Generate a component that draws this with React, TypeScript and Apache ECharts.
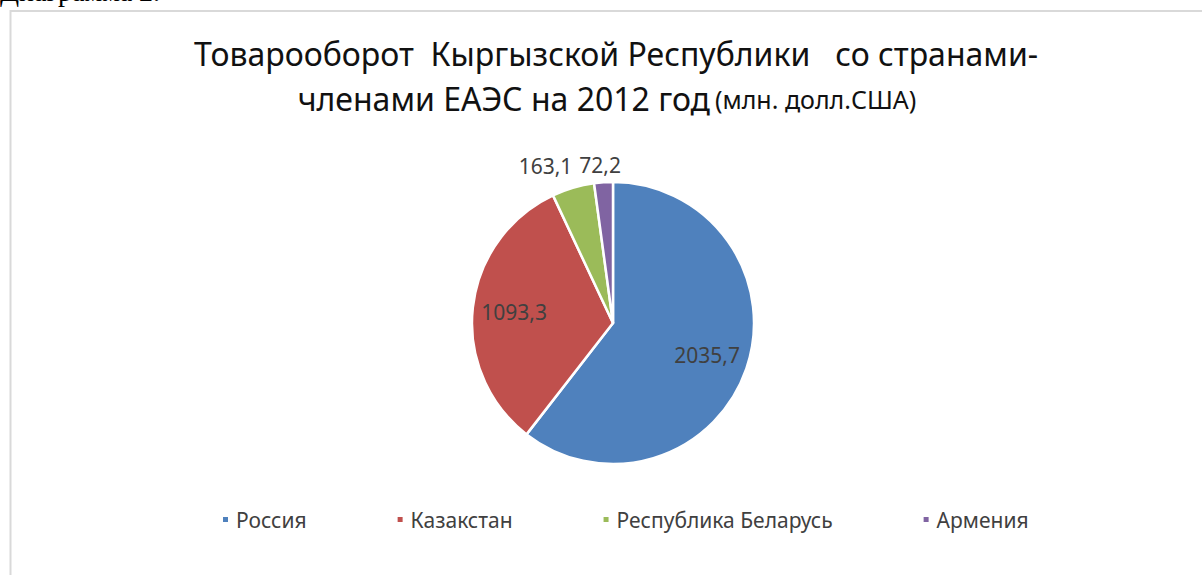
import React, { useEffect, useRef } from "react";
import * as echarts from "echarts";

const categories = ["Россия", "Казакстан", "Республика Беларусь", "Армения"];
const values = [2035.7, 1093.3, 163.1, 72.2];
const colors = ["#4F81BD", "#C0504D", "#9BBB59", "#8064A2"];
const insideLabel = [true, true, false, false];
const titleLine1 = "Товарооборот  Кыргызской Республики   со странами-";
const titleLine2 = "членами ЕАЭС на 2012 год";
const titleUnits = "(млн. долл.США)";
const captionText = "Диаграмма 2.";

const FONT = "'Noto Sans', sans-serif";
const fmt = (v: number) => String(v).replace(".", ",");
// small nudges of the outside labels (Belarus, Armenia), like Excel's best-fit
const outsideNudge: Record<number, [number, number]> = { 2: [40, -31], 3: [23, -9] };

export default function App() {
  const ref = useRef<HTMLDivElement>(null);
  useEffect(() => {
    if (!ref.current) return;
    const chart = echarts.init(ref.current, undefined, { renderer: "svg" });
    const data = categories.map((name, i) => ({
      name,
      value: values[i],
      itemStyle: { color: colors[i] },
    }));
    chart.setOption({
      animation: false,
      backgroundColor: "#ffffff",
      title: {
        text: `{a|${titleLine1}}\n{a|${titleLine2}} {b|${titleUnits}}{s| }`,
        left: 611,
        top: 26,
        textAlign: "center",
        textStyle: {
          fontWeight: "normal",
          rich: {
            a: { fontFamily: FONT, fontSize: 32, fontWeight: "normal", color: "#111", lineHeight: 45 },
            b: { fontFamily: FONT, fontSize: 25, fontWeight: "normal", color: "#111", lineHeight: 45 },
            s: { width: 18, fontSize: 25, lineHeight: 45 },
          },
        },
      },
      legend: {
        data: categories,
        bottom: 40,
        left: 216,
        itemWidth: 7,
        itemHeight: 7,
        itemGap: 89,
        icon: "rect",
        textStyle: { fontFamily: FONT, fontSize: 21, color: "#404040", padding: [0, 0, 0, 2] },
      },
      graphic: [
        {
          type: "rect",
          shape: { x: 10.5, y: 11, width: 1400, height: 800 },
          style: { fill: "none", stroke: "#d9d9d9", lineWidth: 2 },
          silent: true,
        },
        {
          type: "text",
          x: 0,
          y: 5,
          style: {
            text: captionText,
            fontFamily: "'Liberation Serif', serif",
            fontSize: 28,
            fill: "#000",
            verticalAlign: "bottom",
          },
          silent: true,
        },
      ],
      series: [
        {
          type: "pie",
          center: [613, 323],
          radius: 141,
          startAngle: 90,
          clockwise: true,
          silent: true,
          itemStyle: { borderColor: "#ffffff", borderWidth: 2.5 },
          label: {
            show: true,
            position: "outside",
            formatter: (p: any) => (insideLabel[p.dataIndex] ? "" : fmt(p.value)),
            fontFamily: FONT,
            fontSize: 21,
            color: "#404040",
          },
          labelLine: { show: false, length: 8, length2: 0 },
          labelLayout: (p: any) => {
            const n = outsideNudge[p.dataIndex];
            return n ? { dx: n[0], dy: n[1] } : {};
          },
          data,
        },
        {
          type: "pie",
          center: [613, 323],
          radius: 193,
          startAngle: 90,
          clockwise: true,
          silent: true,
          itemStyle: { color: "rgba(0,0,0,0)", borderWidth: 0 },
          label: {
            show: true,
            position: "inside",
            formatter: (p: any) => (insideLabel[p.dataIndex] ? fmt(p.value) : ""),
            fontFamily: FONT,
            fontSize: 21,
            color: "#404040",
          },
          labelLine: { show: false },
          data: categories.map((name, i) => ({ name, value: values[i] })),
        },
      ],
    });
    return () => chart.dispose();
  }, []);
  return (
    <div
      style={{ position: "fixed", left: 0, top: 0, width: 1202, height: 575, background: "#fff" }}
    >
      <div ref={ref} style={{ width: 1202, height: 575 }} />
    </div>
  );
}
